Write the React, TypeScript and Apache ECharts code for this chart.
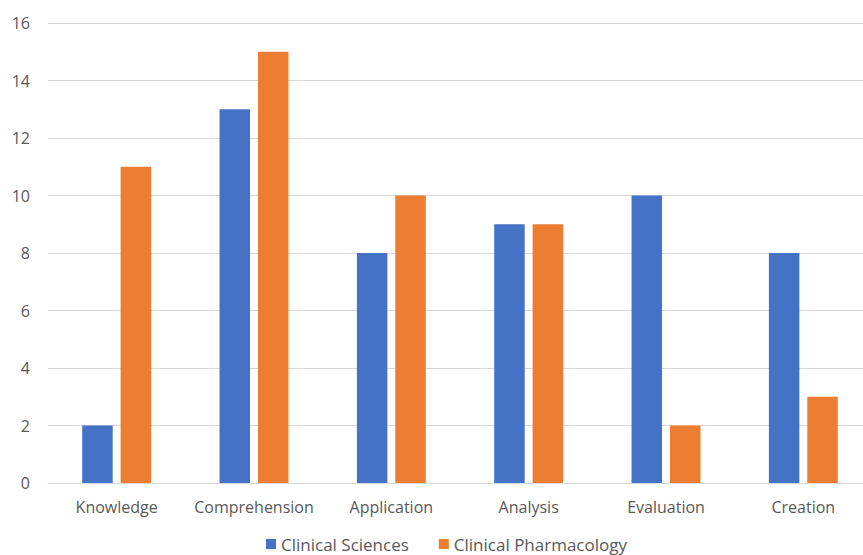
import React, { useEffect, useRef } from "react";
import * as echarts from "echarts";

const categories = ["Knowledge", "Comprehension", "Application", "Analysis", "Evaluation", "Creation"];
const clinicalSciences = [2, 13, 8, 9, 10, 8];
const clinicalPharmacology = [11, 15, 10, 9, 2, 3];
const seriesNames = ["Clinical Sciences", "Clinical Pharmacology"];

const FONT = "'Open Sans', Lato, sans-serif";
const TEXT = "#595959";

// The plot area runs a little past the right edge of the page, so the chart
// is drawn slightly wider than the visible frame and clipped.
const FRAME_W = 863;
const FRAME_H = 555;
const CHART_W = 872;

export default function App() {
  const ref = useRef<HTMLDivElement>(null);

  useEffect(() => {
    if (!ref.current) return;
    const chart = echarts.init(ref.current, undefined, { renderer: "svg" });
    chart.setOption({
      animation: false,
      backgroundColor: "#ffffff",
      textStyle: { fontFamily: FONT },
      grid: { left: 48, right: 0, top: 23, bottom: 72, containLabel: false },
      legend: {
        data: seriesNames,
        top: 530,
        left: 261,
        icon: "rect",
        itemWidth: 10,
        itemHeight: 10,
        itemGap: 30,
        textStyle: { color: TEXT, fontSize: 17, lineHeight: 18, fontFamily: FONT },
      },
      xAxis: {
        type: "category",
        data: categories,
        axisLine: { lineStyle: { color: "#d9d9d9", width: 1 } },
        axisTick: { show: false },
        axisLabel: { color: TEXT, fontSize: 16, margin: 16, interval: 0, fontFamily: FONT },
      },
      yAxis: {
        type: "value",
        min: 0,
        max: 16,
        interval: 2,
        axisLine: { show: false },
        axisTick: { show: false },
        axisLabel: { color: TEXT, fontSize: 16, margin: 18, fontFamily: FONT },
        splitLine: { lineStyle: { color: "#d9d9d9", width: 1 } },
      },
      series: [
        {
          name: seriesNames[0],
          type: "bar",
          data: clinicalSciences,
          barWidth: "22.2%",
          barGap: "26%",
          itemStyle: { color: "#4472C4" },
        },
        {
          name: seriesNames[1],
          type: "bar",
          data: clinicalPharmacology,
          barWidth: "22.2%",
          itemStyle: { color: "#ED7D31" },
        },
      ],
    });
    return () => chart.dispose();
  }, []);

  return (
    <div
      style={{
        position: "absolute",
        left: 0,
        top: 0,
        width: FRAME_W,
        height: FRAME_H,
        overflow: "hidden",
        background: "#ffffff",
      }}
    >
      <div ref={ref} style={{ width: CHART_W, height: FRAME_H }} />
    </div>
  );
}
